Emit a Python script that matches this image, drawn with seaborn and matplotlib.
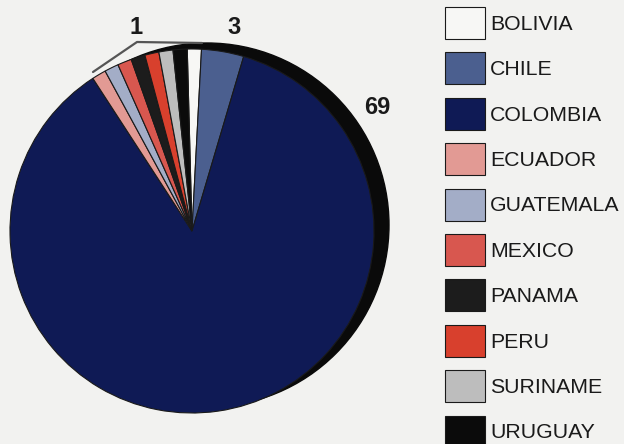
import numpy as np
import pandas as pd
import matplotlib
matplotlib.use("Agg")
import matplotlib.pyplot as plt
from matplotlib.patches import Circle
import seaborn as sns

sns.set_theme(style="white")
plt.rcParams['font.family'] = ['Liberation Sans', 'DejaVu Sans']

# data
countries = ["BOLIVIA", "CHILE", "COLOMBIA", "ECUADOR", "GUATEMALA",
             "MEXICO", "PANAMA", "PERU", "SURINAME", "URUGUAY"]
incidents = [1, 3, 69, 1, 1, 1, 1, 1, 1, 1]
colors = ["#f7f7f5", "#4b5f8f", "#0f1a55", "#e29a94", "#a3adc7",
          "#d8574f", "#1c1c1c", "#d8402d", "#bdbdbd", "#0b0b0b"]

df = pd.DataFrame({"country": countries, "incidents": incidents, "color": colors})

bg = "#f2f2f0"
fig = plt.figure(figsize=(6.24, 4.44), dpi=100, facecolor=bg)
ax = fig.add_axes([0, 0, 1, 1])
ax.set_facecolor(bg)

# drop shadow behind the pie
ax.add_patch(Circle((207, 219), 182, color="#0a0a0a", zorder=1))

wedges, _ = ax.pie(df["incidents"], colors=df["color"], startangle=91.5,
                   counterclock=False, center=(192, 213), radius=182,
                   wedgeprops=dict(edgecolor="#1a1a1a", linewidth=0.8, zorder=2))
ax.set_xlim(0, 624)
ax.set_ylim(0, 444)
ax.set_aspect("equal")
ax.axis("off")

# value labels
lab = dict(fontsize=17, fontweight="bold", color="#1a1a1a", ha="center", va="center")
ax.text(136, 416, "1", **lab)
ax.text(234, 416, "3", **lab)
ax.text(377, 337, "69", **lab)
ax.plot([93, 137, 202], [372, 402, 401], color="#555555", lw=1.6, zorder=3)

ax.legend(wedges, df["country"], loc="upper left",
          bbox_to_anchor=(445 / 624, 1 - 7 / 444), bbox_transform=fig.transFigure,
          frameon=False, fontsize=15.3, handlelength=1.88, handleheight=1.94,
          labelspacing=0.63, handletextpad=0.24, borderpad=0, borderaxespad=0,
          labelcolor="#1a1a1a")

fig.savefig("out.png", dpi=100, facecolor=bg)
